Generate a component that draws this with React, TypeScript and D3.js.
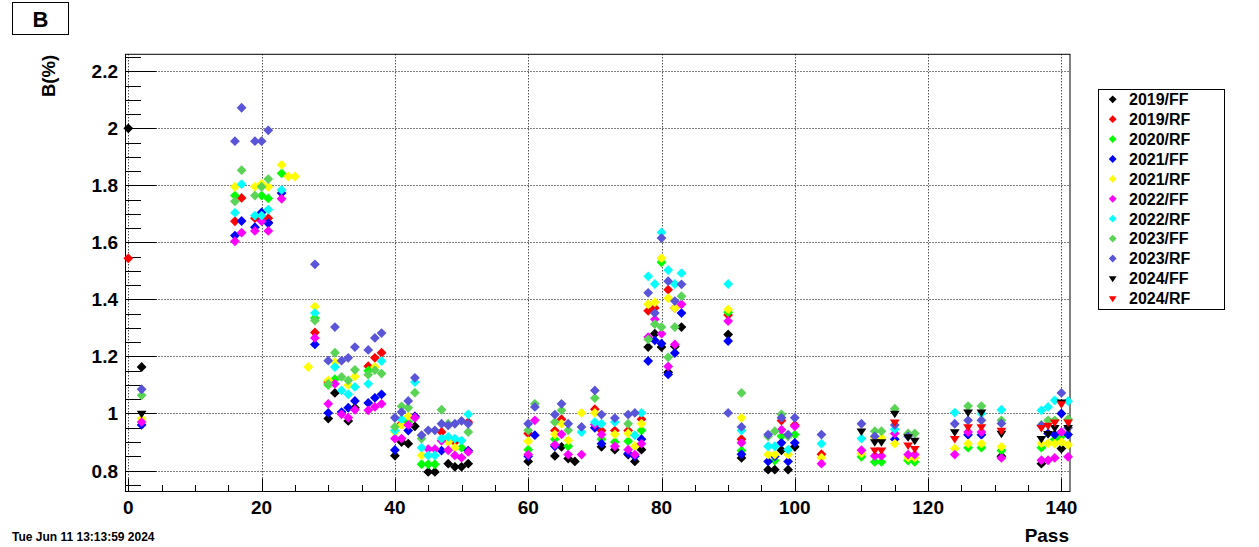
import React, { useEffect } from 'react';
import * as d3 from 'd3';

type P = [number, number];

// ---------- data (pass, B%) ----------
const s2019FF: P[] = [[0,2.0],[2,1.163],[20,1.68],[21,1.67],[30,0.982],[31,1.072],[33,0.974],[34,1.02],[40,0.852],[41,0.9],[42,0.894],[43,0.955],[45,0.795],[46,0.795],[48,0.824],[49,0.813],[50,0.813],[51,0.824],[60,0.832],[64,0.851],[65,0.883],[66,0.842],[67,0.832],[71,0.883],[73,0.873],[75,0.856],[76,0.832],[77,0.873],[78,1.233],[79,1.28],[80,1.233],[81,1.145],[82,1.235],[83,1.303],[90,1.277],[92,0.844],[96,0.803],[97,0.803],[98,0.871],[99,0.803],[100,0.883],[131,0.85],[137,0.824],[140,0.877]];
const s2019RF: P[] = [[0,1.544],[16,1.674],[17,1.756],[19,1.685],[21,1.685],[28,1.284],[30,1.11],[36,1.166],[37,1.195],[38,1.213],[41,0.965],[43,0.99],[47,0.935],[49,0.9],[51,0.97],[60,0.93],[64,0.94],[65,0.98],[70,1.015],[71,0.94],[73,0.94],[75,0.94],[77,0.98],[78,1.36],[79,1.37],[81,1.434],[82,1.37],[90,1.345],[92,0.91],[98,0.975],[100,0.96],[104,0.857]];
const s2020RF: P[] = [[16,1.764],[20,1.764],[21,1.754],[23,1.842],[28,1.335],[30,1.1],[31,1.12],[36,1.15],[42,0.97],[44,0.822],[45,0.822],[46,0.822],[50,0.88],[60,0.873],[64,0.91],[66,0.885],[71,0.91],[73,0.9],[75,0.903],[77,0.941],[80,1.53],[90,1.355],[92,0.87],[97,0.835],[98,0.92],[100,0.926],[110,0.848],[112,0.83],[113,0.83],[117,0.835],[118,0.83],[126,0.88],[128,0.88],[131,0.87],[137,0.88],[139,0.91],[140,0.92]];
const s2021FF: P[] = [[2,0.96],[16,1.624],[17,1.675],[19,1.653],[20,1.705],[21,1.667],[23,1.773],[28,1.242],[30,1.002],[32,1.005],[33,1.02],[34,1.044],[36,1.037],[37,1.055],[38,1.067],[40,0.872],[42,0.94],[43,0.99],[47,0.87],[51,0.87],[60,0.85],[61,0.924],[64,0.885],[70,0.95],[71,0.894],[75,0.86],[76,0.85],[77,0.91],[78,1.184],[79,1.256],[80,1.245],[81,1.137],[82,1.212],[83,1.352],[90,1.254],[92,0.857],[96,0.832],[97,0.85],[98,0.897],[99,0.832],[100,0.897],[115,0.91],[126,0.925],[128,0.925],[138,0.93],[139,0.926],[140,1.0],[141,0.926]];
const s2021RF: P[] = [[2,0.982],[16,1.795],[19,1.795],[20,1.806],[21,1.795],[23,1.872],[24,1.831],[25,1.831],[27,1.163],[28,1.375],[30,1.116],[31,1.18],[33,1.1],[34,1.13],[37,1.163],[40,0.935],[41,0.96],[42,0.99],[44,0.853],[48,0.9],[49,0.88],[60,0.903],[64,0.927],[65,0.964],[66,0.906],[68,1.002],[70,1.002],[73,0.927],[75,0.93],[76,0.885],[77,0.964],[78,1.383],[79,1.39],[80,1.545],[81,1.404],[82,1.37],[90,1.365],[92,0.985],[96,0.856],[97,0.856],[99,0.856],[104,0.845],[110,0.86],[112,0.915],[113,0.915],[115,0.894],[117,0.845],[118,0.845],[124,0.877],[126,0.894],[128,0.894],[131,0.883],[137,0.895],[138,0.895],[139,0.894],[140,0.9],[141,0.89]];
const s2022FF: P[] = [[2,0.97],[16,1.604],[17,1.634],[19,1.64],[20,1.674],[21,1.64],[23,1.753],[28,1.265],[30,1.034],[31,1.104],[32,0.997],[33,0.985],[34,1.013],[36,1.011],[37,1.023],[38,1.034],[40,0.912],[41,0.912],[42,0.96],[43,0.985],[45,0.875],[46,0.875],[47,0.904],[48,0.871],[49,0.853],[50,0.845],[51,0.865],[60,0.856],[61,0.976],[64,0.89],[65,0.927],[66,0.856],[68,0.856],[70,0.961],[71,0.926],[73,0.885],[75,0.873],[76,0.856],[77,0.894],[78,1.268],[79,1.33],[80,1.28],[81,1.165],[82,1.242],[83,1.383],[90,1.324],[92,0.897],[98,0.943],[100,0.955],[104,0.824],[110,0.871],[112,0.851],[113,0.851],[115,0.93],[117,0.856],[118,0.856],[124,0.856],[126,0.935],[128,0.935],[131,0.844],[137,0.836],[138,0.836],[139,0.844],[140,0.935],[141,0.848]];
const s2022RF: P[] = [[16,1.704],[17,1.804],[19,1.694],[20,1.694],[21,1.715],[23,1.784],[28,1.352],[31,1.163],[32,1.081],[33,1.067],[34,1.093],[36,1.104],[38,1.184],[40,0.94],[41,0.98],[43,1.11],[44,0.88],[45,0.853],[46,0.853],[47,0.912],[48,0.918],[49,0.912],[50,0.905],[51,0.997],[68,0.935],[70,0.97],[71,0.964],[73,0.97],[76,0.924],[77,1.002],[78,1.481],[79,1.454],[80,1.635],[81,1.503],[82,1.454],[83,1.492],[90,1.454],[92,0.94],[96,0.885],[97,0.885],[99,0.873],[104,0.894],[110,0.912],[115,0.945],[124,1.003],[128,1.0],[131,1.013],[137,1.011],[138,1.023],[139,1.046],[141,1.043]];
const s2023FF: P[] = [[2,1.064],[16,1.744],[17,1.853],[19,1.764],[20,1.795],[21,1.822],[28,1.326],[30,1.104],[31,1.213],[32,1.128],[33,1.116],[34,1.153],[36,1.136],[37,1.152],[38,1.14],[40,0.953],[41,1.025],[42,1.02],[43,1.073],[44,0.912],[47,1.013],[48,0.964],[51,0.935],[60,0.941],[61,1.034],[64,0.97],[65,1.011],[66,0.941],[70,1.054],[75,0.964],[78,1.26],[79,1.313],[80,1.303],[81,1.197],[82,1.303],[83,1.411],[92,1.072],[96,0.92],[97,0.938],[98,0.997],[99,0.92],[112,0.938],[113,0.938],[115,1.017],[117,0.93],[118,0.93],[126,1.026],[128,1.026],[131,0.976],[137,0.96],[138,0.976],[139,0.976],[141,0.98]];
const s2023RF: P[] = [[2,1.085],[16,1.955],[17,2.072],[19,1.955],[20,1.955],[21,1.993],[28,1.523],[30,1.185],[31,1.303],[32,1.185],[33,1.195],[34,1.233],[36,1.223],[37,1.265],[38,1.282],[40,0.985],[41,1.005],[42,1.044],[43,1.125],[44,0.924],[45,0.941],[46,0.941],[47,0.964],[48,0.958],[49,0.964],[50,0.974],[51,0.964],[60,0.964],[61,1.023],[64,0.996],[65,1.034],[66,0.964],[68,0.953],[70,1.081],[71,0.996],[73,0.984],[75,0.996],[76,1.002],[78,1.423],[79,1.352],[80,1.615],[81,1.464],[82,1.394],[83,1.453],[90,1.002],[92,0.953],[96,0.926],[98,0.985],[99,0.926],[100,0.985],[104,0.926],[110,0.964],[112,0.92],[115,0.96],[117,0.92],[124,0.964],[126,0.976],[128,0.976],[131,0.965],[137,0.958],[140,1.072],[141,0.95]];
const s2024FF: P[] = [[2,1.0],[110,0.938],[112,0.9],[113,0.9],[115,1.0],[117,0.918],[118,0.906],[124,0.935],[126,1.005],[128,1.005],[131,0.93],[137,0.912],[138,0.929],[139,0.95],[140,1.04],[141,0.95]];
const s2024RF: P[] = [[112,0.871],[113,0.871],[115,0.97],[117,0.889],[118,0.877],[124,0.912],[126,0.953],[128,0.953],[131,0.941],[137,0.95],[138,0.958],[139,0.97],[140,1.034],[141,0.97]];

const seriesNames = ['2019/FF','2019/RF','2020/RF','2021/FF','2021/RF','2022/FF','2022/RF','2023/FF','2023/RF','2024/FF','2024/RF'];
const seriesData = [s2019FF,s2019RF,s2020RF,s2021FF,s2021RF,s2022FF,s2022RF,s2023FF,s2023RF,s2024FF,s2024RF];
const seriesColors = ['#000000','#ff0000','#00ff00','#0000ff','#ffff00','#ff00ff','#00ffff','#59d454','#5954d8','#000000','#ff0000'];
const seriesShapes = ['diamond','diamond','diamond','diamond','diamond','diamond','diamond','diamond','diamond','tri','tri'];

const xTicks = [0,20,40,60,80,100,120,140];
const xTickLabels = ['0','20','40','60','80','100','120','140'];
const yTicks = [0.8,1.0,1.2,1.4,1.6,1.8,2.0,2.2];
const yTickLabels = ['0.8','1','1.2','1.4','1.6','1.8','2','2.2'];

const W = 1259, H = 547;
const F = { left: 125.5, right: 1070, top: 54.3, bottom: 491.5 };
const FONT = '"Liberation Sans", Arial, Helvetica, sans-serif';

function markerPath(shape: string, cx: number, cy: number, s: number): string {
  if (shape === 'tri') {
    const w = s, h = s * 0.9;
    return `M${cx - w},${cy - h * 0.6}L${cx + w},${cy - h * 0.6}L${cx},${cy + h * 1.1}Z`;
  }
  return `M${cx},${cy - s}L${cx + s},${cy}L${cx},${cy + s}L${cx - s},${cy}Z`;
}

export default function App() {
  useEffect(() => {
    document.body.style.margin = '0';
  }, []);

  const x = d3.scaleLinear().domain([-0.42, 141.29]).range([F.left, F.right]);
  const y = d3.scaleLinear().domain([0.7264, 2.2595]).range([F.bottom, F.top]);

  const xMinor = d3.range(0, 141, 5);
  const yMinor = d3.range(0.75, 2.26, 0.05);

  const legX = 1098.5, legY = 89.5, legW = 126, legH = 220;
  const rowY = (i: number) => 99.3 + i * 19.9;

  return (
    <svg width={W} height={H} style={{ display: 'block', position: 'absolute', left: 0, top: 0, background: '#fff' }}
      fontFamily={FONT}>
      <rect x={0} y={0} width={W} height={H} fill="#fff" />
      {/* title box */}
      <rect x={12.5} y={2.5} width={56} height={32} fill="#fff" stroke="#000" strokeWidth={1} />
      <text x={40.5} y={26.5} fontSize={22} fontWeight="bold" textAnchor="middle">B</text>

      {/* grid */}
      <g stroke="#000" strokeWidth={1} strokeDasharray="1,2">
        {xTicks.map(t => (
          <line key={'gx' + t} x1={Math.round(x(t)) + 0.5} x2={Math.round(x(t)) + 0.5} y1={F.top} y2={F.bottom} />
        ))}
        {yTicks.map(t => (
          <line key={'gy' + t} x1={F.left} x2={F.right} y1={Math.round(y(t)) + 0.5} y2={Math.round(y(t)) + 0.5} />
        ))}
      </g>

      {/* frame */}
      <rect x={F.left} y={F.top} width={F.right - F.left} height={F.bottom - F.top} fill="none" stroke="#000" strokeWidth={1} />

      {/* ticks */}
      <g stroke="#000" strokeWidth={1}>
        {xMinor.map(t => {
          const major = t % 20 === 0;
          const xx = Math.round(x(t)) + 0.5;
          return <line key={'tx' + t} x1={xx} x2={xx} y1={F.bottom} y2={F.bottom - (major ? 13 : 6.5)} />;
        })}
        {yMinor.map((t, i) => {
          const major = i % 4 === 1;
          const yy = Math.round(y(t)) + 0.5;
          return <line key={'ty' + i} x1={F.left} x2={F.left + (major ? 31 : 15.5)} y1={yy} y2={yy} />;
        })}
      </g>

      {/* tick labels */}
      <g fontSize={19} fontWeight="bold">
        {xTicks.map((t, i) => (
          <text key={'lx' + t} x={x(t)} y={514} textAnchor="middle">{xTickLabels[i]}</text>
        ))}
        {yTicks.map((t, i) => (
          <text key={'ly' + t} x={118} y={y(t) + 7} textAnchor="end">{yTickLabels[i]}</text>
        ))}
      </g>

      {/* axis titles */}
      <text x={1069} y={542} fontSize={19} fontWeight="bold" textAnchor="end">Pass</text>
      <text transform="translate(54.5,76) rotate(-90)" fontSize={18.5} fontWeight="bold" textAnchor="middle">B(%)</text>
      <text x={12} y={541} fontSize={12} fontWeight="bold">Tue Jun 11 13:13:59 2024</text>

      {/* data */}
      {seriesData.map((data, si) => (
        <g key={'s' + si} fill={seriesColors[si]}>
          {data.map((d, j) => (
            <path key={j} d={markerPath(seriesShapes[si], x(d[0]), y(d[1]), 4.9)} />
          ))}
        </g>
      ))}

      {/* legend */}
      <rect x={legX} y={legY} width={legW} height={legH} fill="#fff" stroke="#000" strokeWidth={1} />
      {seriesNames.map((n, i) => (
        <g key={'leg' + i}>
          <path d={markerPath(seriesShapes[i], 1112.7, rowY(i), 3.9)} fill={seriesColors[i]} />
          <text x={1129} y={rowY(i) + 5.8} fontSize={16} fontWeight="bold">{n}</text>
        </g>
      ))}
    </svg>
  );
}
